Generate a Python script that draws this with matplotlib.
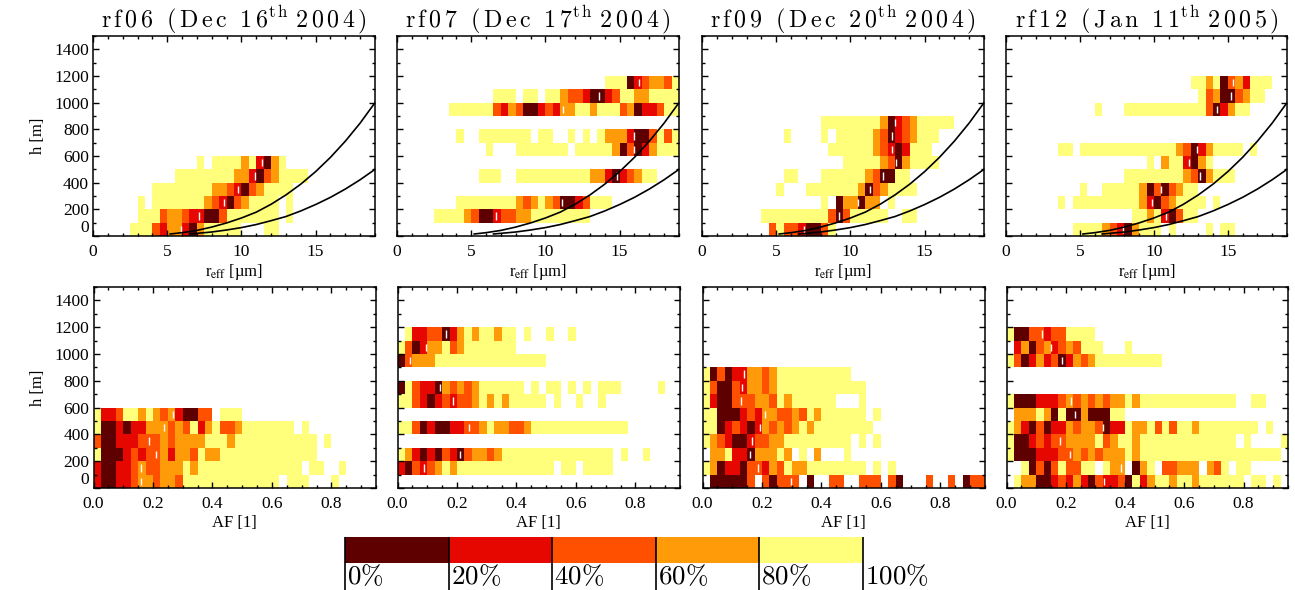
import numpy as np
import matplotlib
matplotlib.use('Agg')
import matplotlib.pyplot as plt
from matplotlib.colors import BoundaryNorm, ListedColormap
from matplotlib.ticker import MultipleLocator

plt.rcParams['font.family'] = ['Liberation Serif', 'DejaVu Serif']
plt.rcParams['mathtext.fontset'] = 'stix'

# one string per height bin (100 m), one character per x bin
# 0-4 = percentile class, '.' = no data
rf06_reff = [
    '.....444213310344444...44',
    '......4442332110024444444.4',
    '......4.44444443210234444.4',
    '........4444444433210234444',
    '...........444444443310234444',
    '..............4.4444341034',
]
rf07_reff = [
    '',
    '.....444432001223344444444',
    '........444444443234320012444',
    '',
    '...........444..4444444444331012344',
    '',
    '............4...4444444.44444302013444',
    '........4..4444444.44..4.4.43331002424',
    '',
    '.......4444442132001213344344423011244',
    '.............444.44.443221001244334444',
    '.' * 28 + '4440123324',
]
rf09_reff = [
    '.' * 9 + '242210024',
    '.' * 8 + '444444444' + '202' + '44444..44',
    '.' * 16 + '4.033033.4',
    '.' * 10 + '4...4444444' + '3023' + '4444',
    '.' * 11 + '44...444444' + '3200' + '44',
    '.' * 19 + '44444' + '3203' + '4444',
    '.' * 17 + '444444' + '32101' + '444',
    '.' * 11 + '4....4.44444' + '320123' + '444',
    '.' * 16 + '44444444' + '30123' + '44444',
]
rf12_reff = [
    '.' * 9 + '4444' + '32103' + '444.4....4.44',
    '.' * 17 + '443410244',
    '.' * 7 + '4.444444444' + '31023' + '4444.4',
    '.' * 10 + '4..44444' + '302023' + '44',
    '.' * 16 + '44444444' + '3203' + '444',
    '.' * 19 + '4.3441034',
    '.' * 7 + '44.' + '4444444444444' + '32013' + '4444.4',
    '',
    '',
    '.' * 12 + '4...' + '44444444444' + '2013' + '44',
    '.' * 26 + '4230023' + '44',
    '.' * 25 + '44340231' + '444',
]

rf06_af = [
    '100112332332' + '4' * 13 + '.444...4',
    '10011232233343' + '4' * 14 + '.44..4',
    '40001212231332433' + '4' * 13,
    '2001112223233334443' + '4' * 11 + '.4',
    '40010113332324134223' + '4' * 7 + '.4',
    '4112443432310022.444',
]
rf07_af = [
    '',
    '10212343' + '4' * 13 + '.44.4444',
    '43101021023323' + '4' * 15 + '.4..4',
    '',
    '442010011223433223' + '4' * 13,
    '',
    '442101212234343' + '44444.4..4..4',
    '04211032323' + '444444' + '.4.44.4.4.444.....4',
    '',
    '02333' + '4' * 15,
    '420133423' + '4' * 7,
    '.4112201343443' + '44' + '.4..4..4',
]
rf09_af = [
    '.000002.20222.0..22..222.20...2..2.022',
    '43011022132433' + '4' * 8 + '.4.4',
    '.334110333' + '43.4.3...4',
    '43210012233' + '4' * 9 + '.4.4',
    '440121013232343' + '4' * 8,
    '4400012133223243' + '4' * 6 + '.4',
    '410022233243' + '4' * 6 + '...4',
    '4200213323' + '4' * 12,
    '4020113323' + '4' * 10,
]
rf12_af = [
    '.4330012131021120413443443' + '4' * 6 + '.44.4',
    '..4020242244' + '.433.034.22333.324.44',
    '400011122323233343' + '4' * 19,
    '400121223333423443' + '4' * 13 + '.4....4',
    '43102011323320114334242443' + '4' * 8 + '.4',
    '.333430400300044',
    '400011123232323343' + '4' * 13 + '..44',
    '',
    '',
    '420131201323' + '4' * 9,
    '.130231232444...4',
    '400221224444',
]

# white bars, one value per height row (nan = none)
n = np.nan
rf06_reff_med = [5.9, 7.12, 8.85, 9.78, 10.9, 11.4]
rf07_reff_med = [n, 6.68, 11.1, n, 14.8, n, 16.0, 15.95, n, 11.2, 13.6, 16.3]
rf09_reff_med = [6.84, 9.25, 10.54, 11.3, 12.2, 13.1, 12.8, 12.8, 13.0]
rf12_reff_med = [7.93, 10.8, 9.9, 10.45, 13.1, 12.4, 12.9, n, n, 14.3, 15.2, 15.35]
rf06_af_med = [0.16, 0.16, 0.211, 0.188, 0.237, 0.268]
rf07_af_med = [n, 0.088, 0.209, n, 0.239, n, 0.185, 0.142, n, 0.041, 0.095, 0.162]
rf09_af_med = [0.298, 0.187, 0.161, 0.165, 0.195, 0.209, 0.131, 0.133, 0.139]
rf12_af_med = [0.33, 0.386, 0.214, 0.182, 0.324, 0.23, 0.216, n, n, 0.188, 0.149, 0.121]

curve_r_high = [5.2, 6, 7, 8, 9, 10, 11, 12, 13, 14, 15, 16, 17, 18, 19]
curve_h_high = [15, 25, 42, 67, 98, 135, 179, 238, 308, 389, 483, 590, 711, 847, 1000]
curve_r_low = [6.5, 7, 8, 9, 10, 11, 12, 13, 14, 15, 16, 17, 18, 19]
curve_h_low = [15, 20, 30, 45, 63, 86, 115, 146, 188, 236, 290, 352, 422, 500]

flights = ['rf06', 'rf07', 'rf09', 'rf12']
dates = ['Dec 16', 'Dec 17', 'Dec 20', 'Jan 11']
years = ['2004', '2004', '2004', '2005']
class_labels = ['0%', '20%', '40%', '60%', '80%', '100%']
class_colors = ['#5e0000', '#e60800', '#ff5000', '#ff9a08', '#ffff7c']

W, H = 1295, 590
left_px = [93, 397, 702, 1006]
right_px = [375, 679, 984, 1287]
cmap = ListedColormap(class_colors)
cmap.set_bad((1, 1, 1, 0))
norm = BoundaryNorm(np.arange(-0.5, 5), 5)


def add_axes_px(x0, x1, y0, y1):
    return fig.add_axes([x0 / W, 1 - y1 / H, (x1 - x0) / W, (y1 - y0) / H])


def to_grid(rows):
    grid = np.full((15, 38), np.nan)
    for i, row in enumerate(rows):
        for j, c in enumerate(row[:38]):
            if c != '.':
                grid[i, j] = int(c)
    return np.ma.masked_invalid(grid)


def spaced(s):
    # the reference title is letterspaced
    return '\\,'.join(s).replace(' ', '\\ ')


def title_text(k):
    return ('$\\mathrm{' + spaced(flights[k] + ' (' + dates[k]) + '^{' + spaced('th')
            + '}\\ ' + spaced(years[k] + ')') + '}$')


def style_axes(ax, xmax, xmajor, xminor, show_y):
    ax.set_xlim(0, xmax)
    ax.set_ylim(0, 1500)
    ax.xaxis.set_major_locator(MultipleLocator(xmajor))
    ax.xaxis.set_minor_locator(MultipleLocator(xminor))
    ax.yaxis.set_major_locator(MultipleLocator(200))
    ax.yaxis.set_minor_locator(MultipleLocator(100))
    ax.tick_params(which='both', direction='in', top=True, right=True, width=1.0,
                   labelsize=12.5, colors='black')
    ax.tick_params(which='major', length=4.5)
    ax.tick_params(axis='x', which='major', pad=6)
    ax.tick_params(axis='y', which='major', pad=3)
    ax.tick_params(which='minor', length=2.5)
    for spine in ax.spines.values():
        spine.set_linewidth(1.1)
    ax.set_yticks(np.arange(0, 1500, 200))
    if show_y:
        ax.set_ylabel('h [m]', fontsize=12)
        ax.yaxis.set_label_coords(-0.167, 0.5)
        ax.get_yticklabels()[0].set_va('bottom')
    else:
        ax.tick_params(labelleft=False)


def draw_panel(ax, rows, med, xmax):
    x_edges = np.linspace(0, xmax, 39)
    y_edges = np.arange(0, 1501, 100)
    ax.pcolormesh(x_edges, y_edges, to_grid(rows), cmap=cmap, norm=norm,
                  antialiased=False, linewidth=0)
    med = np.array(med)
    row = np.arange(len(med))
    ax.vlines(med, row * 100 + 22, row * 100 + 78, color='white', lw=1.0)


fig = plt.figure(figsize=(W / 100, H / 100), dpi=100)

top_rows = [rf06_reff, rf07_reff, rf09_reff, rf12_reff]
top_meds = [rf06_reff_med, rf07_reff_med, rf09_reff_med, rf12_reff_med]
bottom_rows = [rf06_af, rf07_af, rf09_af, rf12_af]
bottom_meds = [rf06_af_med, rf07_af_med, rf09_af_med, rf12_af_med]

for k in range(4):
    ax = add_axes_px(left_px[k], right_px[k], 36, 236)
    draw_panel(ax, top_rows[k], top_meds[k], 19)
    ax.plot(curve_r_high, curve_h_high, color='black', lw=1.2)
    ax.plot(curve_r_low, curve_h_low, color='black', lw=1.2)
    style_axes(ax, 19, 5, 1, k == 0)
    ax.set_xlabel(r'r$_{\mathrm{eff}}$ [µm]', fontsize=12, labelpad=1)
    ax.set_title(title_text(k), math_fontfamily='cm', fontsize=17.3, pad=5)

    ax = add_axes_px(left_px[k] + 0.5, right_px[k] + 1, 287, 488)
    draw_panel(ax, bottom_rows[k], bottom_meds[k], 0.95)
    style_axes(ax, 0.95, 0.2, 0.05, k == 0)
    ax.set_xlabel('AF [1]', fontsize=12, labelpad=2)

# colour key under the panels
ax = add_axes_px(345, 863, 537, 563)
ax.pcolormesh(np.arange(6), [0, 1], [np.arange(5)], cmap=cmap, norm=norm)
ax.axis('off')
trans = ax.get_xaxis_transform()
ax.vlines(np.arange(6), -1.04, 1, transform=trans, color='black', lw=1.2, clip_on=False)
for i, label in enumerate(class_labels):
    ax.text(i + 0.02, -0.81, '$' + label.replace('%', r'\%') + '$', transform=trans,
            va='baseline', ha='left', fontsize=19.5, math_fontfamily='cm', clip_on=False)

fig.savefig('out.png', dpi=100)
